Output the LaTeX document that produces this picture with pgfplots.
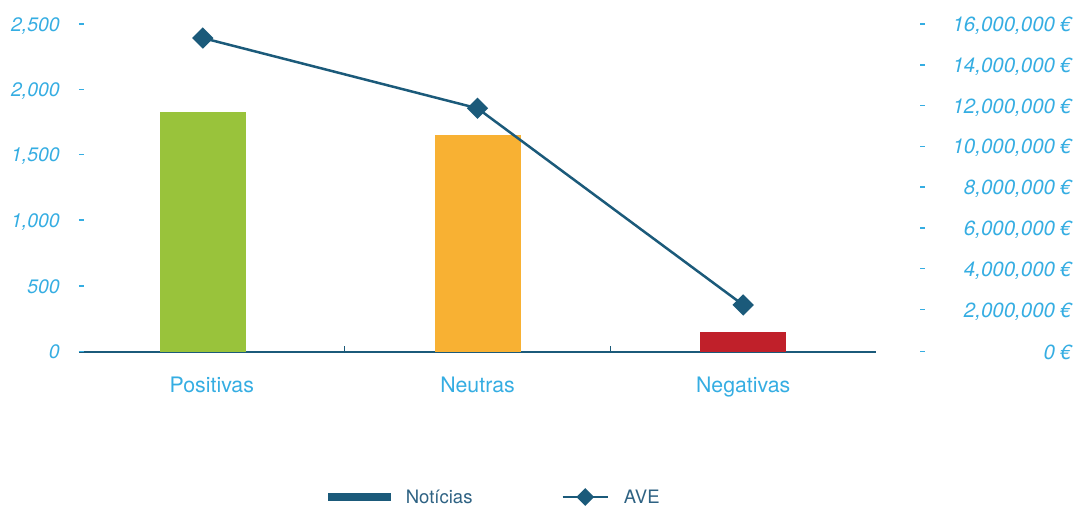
\documentclass[border=0pt]{standalone}
\usepackage{fontspec}
\setmainfont{TeX Gyre Heros}
\usepackage{pgfplots}
\pgfplotsset{compat=1.18}

\definecolor{cgreen}{HTML}{99C33B}
\definecolor{corange}{HTML}{F8B133}
\definecolor{cred}{HTML}{C0202A}
\definecolor{cnavy}{HTML}{1B5A7A}
\definecolor{clabel}{HTML}{35ADE2}
\definecolor{clegend}{HTML}{2E6283}

% short dash drawn beside each value tick label
\newcommand{\tickdash}{\raisebox{0.33em}{\rule{5bp}{1.7bp}}}

\pgfplotsset{
  twin/.style={
    scale only axis, width=797bp, height=326bp,
    xmin=-0.5, xmax=2.5, ymin=0,
    /pgf/number format/fixed,
    /pgf/number format/precision=0,
    /pgf/number format/1000 sep={,},
    /pgf/number format/assume math mode=true,
    ytick style={draw=none},
    y axis line style={draw=none},
    yticklabel style={inner sep=0pt, text=clabel,
      font=\fontsize{19.5bp}{22bp}\selectfont\itshape},
  },
  barlegend/.style={legend image code/.code={%
    \fill[cnavy] (0bp,-3.5bp) rectangle (62bp,3.5bp);}},
  linelegend/.style={legend image code/.code={%
    \draw[mark repeat=2, mark phase=2, ##1, mark size=5bp]
      plot coordinates {(0bp,0bp) (22.5bp,0bp) (45bp,0bp)};}},
}

\begin{document}
\begin{tikzpicture}
% left axis: number of news items
\begin{axis}[
  twin,
  ymax=2500,
  axis x line*=bottom, axis y line*=left,
  x axis line style={cnavy, line width=2bp, -},
  ytick={0,500,1000,1500,2000,2500},
  yticklabel={\pgfmathprintnumber{\tick}\hspace{19bp}\tickdash},
  yticklabel style={anchor=east, xshift=5bp},
  xtick={0,1,2},
  xticklabels={Positivas,Neutras,Negativas},
  xtick style={draw=none},
  xticklabel style={text=clabel, yshift=-21bp,
    font=\fontsize{21.3bp}{23bp}\selectfont},
]
\addplot[ybar, bar width=86bp, bar shift=0pt, fill=cgreen, draw=none] coordinates {(-0.034,1840)};
\addplot[ybar, bar width=86bp, bar shift=0pt, fill=corange, draw=none] coordinates {(1,1664)};
\addplot[ybar, bar width=86bp, bar shift=0pt, fill=cred, draw=none] coordinates {(2,153)};
% separators between categories
\draw[cnavy, line width=1bp] (axis cs:0.5,0) -- ([yshift=6bp]axis cs:0.5,0);
\draw[cnavy, line width=1bp] (axis cs:1.5,0) -- ([yshift=6bp]axis cs:1.5,0);
\end{axis}

% right axis: advertising value equivalent
\begin{axis}[
  twin,
  ymax=16000000,
  scaled y ticks=false,
  axis x line=none, axis y line*=right,
  ytick={0,2000000,4000000,6000000,8000000,10000000,12000000,14000000,16000000},
  yticklabel={\makebox[152bp][l]{\tickdash\hfill\pgfmathprintnumber{\tick}~€}},
  yticklabel style={anchor=west, xshift=44bp,
    font=\fontsize{20.5bp}{22bp}\selectfont\itshape},
  legend columns=2,
  legend style={draw=none, fill=none, at={(0.522,-0.445)}, anchor=center,
    font=\fontsize{18.5bp}{20bp}\selectfont, text=clegend,
    /tikz/every odd column/.append style={column sep=13bp},
    /tikz/every even column/.append style={column sep=87bp}},
]
\addlegendimage{barlegend}
\addlegendentry{Notícias}
\addplot[cnavy, line width=2.5bp, mark=square*, mark size=6.3bp,
  mark options={rotate=45, solid}, linelegend]
  coordinates {(-0.034,15410000) (1,11960000) (2,2310000)};
\addlegendentry{AVE}
\end{axis}
\pgfresetboundingbox
\path[use as bounding box] (-79bp,-154bp) rectangle (999bp,352bp);
\end{tikzpicture}
\end{document}
